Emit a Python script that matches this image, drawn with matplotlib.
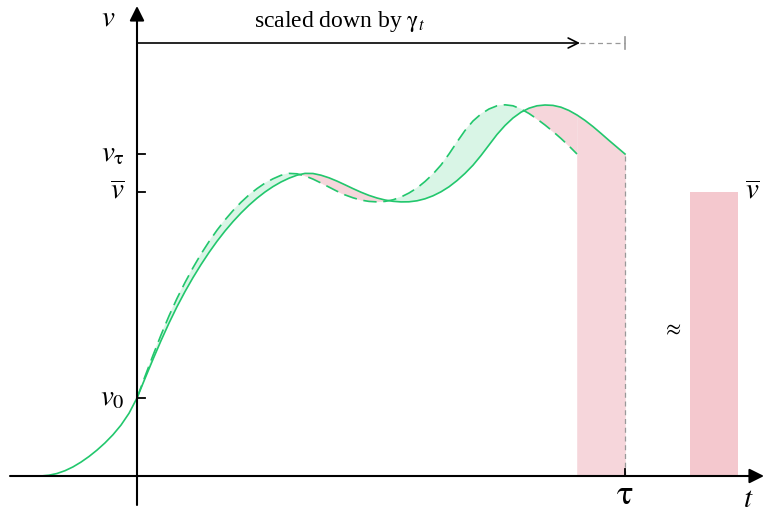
import numpy as np
import matplotlib.pyplot as plt

plt.rcParams['mathtext.fontset'] = 'stix'
plt.rcParams['font.family'] = ['Liberation Serif', 'DejaVu Serif']

# curve values (t to the right of the v-axis, v above the t-axis)
t_lead = [-96, -88, -80, -72, -64, -56, -48, -40, -32, -24, -16, -8]
v_lead = [0, 0.8, 2.5, 5.3, 9.1, 13.9, 19.5, 25.9, 33.1, 41.3, 50.9, 62.7]

t_grid = list(range(0, 489, 8))
v_solid = [78, 97.5, 116.7, 135.3, 152.9, 169.3, 184.4, 198.4, 211.4, 223.5,
           234.7, 245.0, 254.4, 263.0, 270.8, 277.8, 284.0, 289.4, 294.0, 297.8,
           300.8, 302.6, 302.5, 300.8, 298.2, 294.9, 291.2, 287.4, 283.8, 280.6,
           278.0, 276.0, 274.7, 274.1, 274.2, 275.2, 277.2, 280.2, 284.2, 289.2,
           295.4, 302.6, 310.8, 320.5, 331.0, 341.5, 350.5, 358.0, 363.8, 367.8,
           370.2, 371.0, 370.6, 368.8, 365.5, 361.0, 355.6, 349.4, 342.6, 335.6,
           328.8, 322.0]
# scaled-down curve, same t positions, ends at t = 440
v_dashed = [78, 99.6, 120.7, 141.0, 160.1, 177.6, 193.5, 208.3, 222.0, 234.4,
            245.8, 256.1, 265.4, 273.7, 281.1, 287.4, 292.9, 297.2, 300.7, 302.6,
            302.2, 300.1, 296.9, 293.0, 288.9, 284.8, 281.1, 278.2, 275.9, 274.6,
            274.1, 274.6, 276.2, 279.0, 283.0, 288.0, 294.5, 302.0, 311.0, 322.0,
            334.0, 345.5, 355.0, 362.0, 367.0, 370.2, 371.2, 370.2, 367.0, 362.5,
            357.0, 351.0, 344.5, 337.5, 330.0, 322.0]

tau = 488
v0, vbar, vtau = 78, 284, 322
bar_left, bar_right = 553, 601

green = '#22c76d'
green_fill = '#d9f5e6'
pink_fill = '#f6d6db'
pink_bar = '#f4c8ce'

t_grid = np.array(t_grid)
v_solid = np.array(v_solid)
v_dashed = np.array(v_dashed)
n = len(v_dashed)
t_d = t_grid[:n]
s_d = v_solid[:n]

fig = plt.figure(figsize=(7.67, 5.16), dpi=100)
ax = fig.add_axes([0, 0, 1, 1])
ax.set_xlim(-137, 630)
ax.set_ylim(-40, 476)
ax.axis('off')

# fills between the two curves
ax.fill_between(t_d, s_d, v_dashed, where=v_dashed >= s_d, facecolor=green_fill,
                edgecolor=green_fill, lw=0.4, interpolate=True, zorder=1)
ax.fill_between(t_d, s_d, v_dashed, where=v_dashed <= s_d, facecolor=pink_fill,
                edgecolor=pink_fill, lw=0.4, interpolate=True, zorder=1)
ax.fill_between(t_grid[n - 1:], 0, v_solid[n - 1:], facecolor=pink_fill,
                edgecolor=pink_fill, lw=0.4, zorder=1)
ax.fill_between([bar_left, bar_right], 0, vbar, color=pink_bar, lw=0, zorder=1)

# curves
ax.plot(t_lead + list(t_grid), v_lead + list(v_solid), color=green, lw=1.2, zorder=3)
ax.plot(t_d, v_dashed, color=green, lw=1.2, ls=(0, (8, 4)), zorder=3)

# gray dashed guides
ax.plot([tau, tau], [0, vtau], color='#999999', lw=0.9, ls=(0, (4, 3)), zorder=2)
ax.plot([443, tau], [433, 433], color='#999999', lw=0.9, ls=(0, (4, 3)), zorder=2)
ax.plot([tau, tau], [427, 439], color='#999999', lw=1.2, zorder=2)

# arrow "scaled down"
ax.annotate('', xy=(443, 433), xytext=(0, 433),
            arrowprops=dict(arrowstyle='->', color='black', lw=1.2,
                            mutation_scale=18, shrinkA=0, shrinkB=0))
ax.text(203, 455, r'scaled down by $\mathrm{\gamma}_t$', fontsize=17,
        ha='center', va='center')

# axes with arrows
ax.annotate('', xy=(627, 0), xytext=(-127, 0),
            arrowprops=dict(arrowstyle='-|>', color='black', lw=1.5,
                            mutation_scale=22, shrinkA=0, shrinkB=0))
ax.annotate('', xy=(0, 470), xytext=(0, -29),
            arrowprops=dict(arrowstyle='-|>', color='black', lw=1.5,
                            mutation_scale=22, shrinkA=0, shrinkB=0))

# ticks
for v in [v0, vbar, vtau]:
    ax.plot([0, 8], [v, v], color='black', lw=1.3, zorder=4)
ax.plot([tau, tau], [0, 7], color='black', lw=1.3, zorder=4)

# labels
lab = 21
ax.text(-12, v0, r'$v_0$', fontsize=lab, ha='right', va='center')
ax.text(-12, vbar, r'$\overline{v}$', fontsize=lab, ha='right', va='center')
ax.text(-12, vtau, r'$v_{\mathrm{\tau}}$', fontsize=lab, ha='right', va='center')
ax.text(-22, 458, r'$v$', fontsize=lab, ha='right', va='center')
ax.text(tau, -20, r'$\mathrm{\tau}$', fontsize=25, ha='center', va='center')
ax.text(611, -24, r'$t$', fontsize=lab, ha='center', va='center')
ax.text(608, vbar, r'$\overline{v}$', fontsize=lab, ha='left', va='center')
ax.text(535, 146, r'$\approx$', fontsize=16, ha='center', va='center')

fig.savefig('out.png', dpi=100)
